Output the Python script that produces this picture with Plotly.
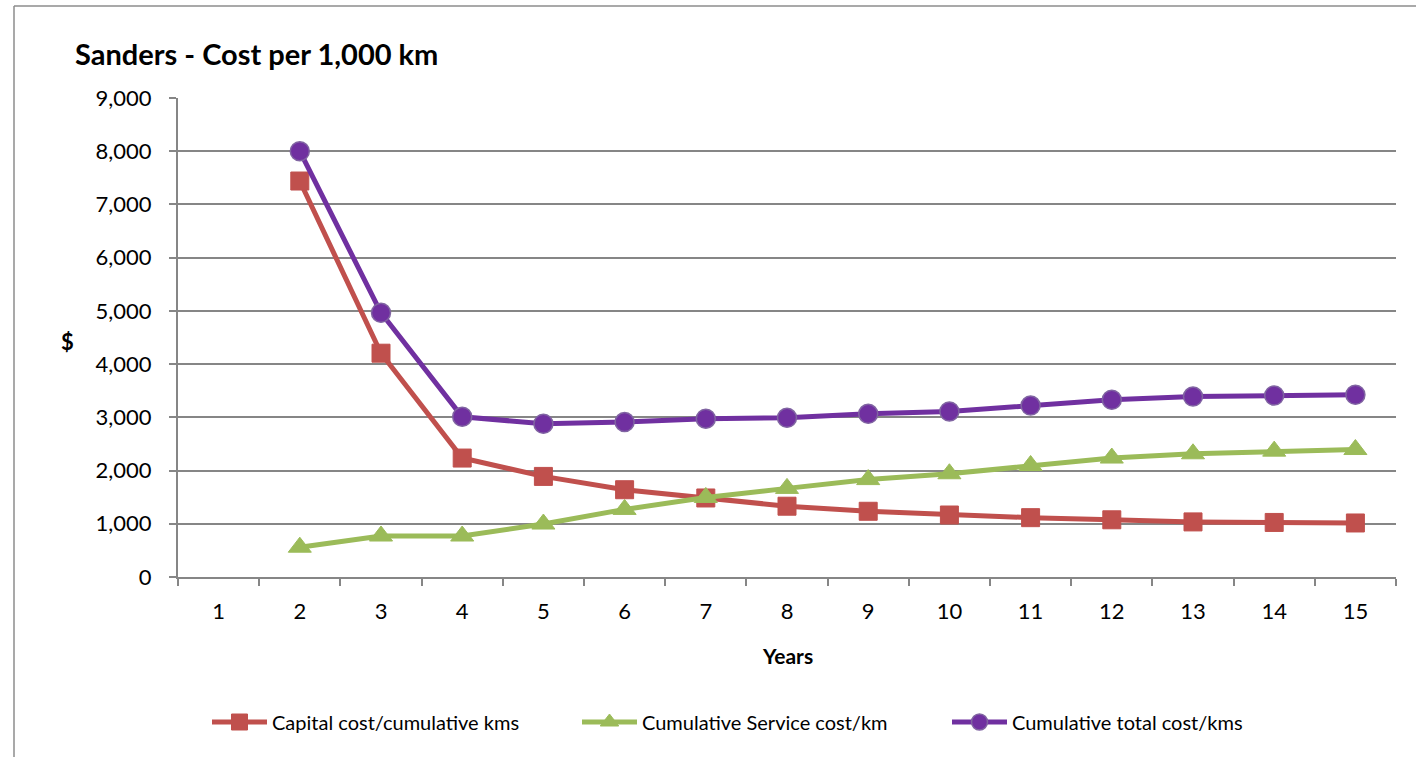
import plotly.graph_objects as go

# Years on the category axis
years = [str(y) for y in range(1, 16)]

# Cost per 1,000 km ($); year 1 has no data
capital_cost = [None, 7440, 4205, 2235, 1890, 1640, 1485, 1330, 1235, 1165, 1115, 1075, 1035, 1025, 1015]
service_cost = [None, 560, 770, 770, 995, 1270, 1495, 1665, 1830, 1940, 2095, 2235, 2315, 2365, 2395]
total_cost = [None, 8000, 4965, 3010, 2880, 2910, 2975, 2990, 3065, 3110, 3220, 3330, 3390, 3410, 3425]

y_ticks = list(range(0, 9001, 1000))
y_tick_labels = [f"{v:,}" for v in y_ticks]

FONT = "Lato"
W, H = 1416, 757
L, R, T, B = 178, 20, 98, 180

fig = go.Figure()

fig.add_trace(go.Scatter(
    x=years, y=capital_cost, name="Capital cost/cumulative kms",
    mode="lines+markers",
    line=dict(color="#C0504D", width=5),
    marker=dict(symbol="square", size=18, color="#C0504D", line=dict(color="#C0504D", width=1)),
))
fig.add_trace(go.Scatter(
    x=years, y=service_cost, name="Cumulative Service cost/km",
    mode="lines+markers",
    line=dict(color="#9BBB59", width=5),
    marker=dict(symbol="triangle-up", size=20, color="#9BBB59", line=dict(color="#9BBB59", width=1)),
))
fig.add_trace(go.Scatter(
    x=years, y=total_cost, name="Cumulative total cost/kms",
    mode="lines+markers",
    line=dict(color="#7030A0", width=5),
    marker=dict(symbol="circle", size=19, color="#7030A0", line=dict(color="#8064A2", width=1.5)),
))

pw = W - L - R
ph = H - T - B

def px_x(x):
    return (x - L) / pw

def px_y(y):
    return (H - B - y) / ph

# Outer chart frame (top and left edges)
fig.add_shape(type="line", xref="paper", yref="paper",
              x0=px_x(14), x1=px_x(1416), y0=px_y(6), y1=px_y(6),
              line=dict(color="#8C8C8C", width=1.5))
fig.add_shape(type="line", xref="paper", yref="paper",
              x0=px_x(14), x1=px_x(14), y0=px_y(6), y1=px_y(757),
              line=dict(color="#8C8C8C", width=1.5))

fig.add_annotation(text="<b>$</b>", xref="paper", yref="paper",
                   x=px_x(67), y=px_y(341), xanchor="center", yanchor="middle",
                   showarrow=False, font=dict(family=FONT, size=22, color="black"))
fig.add_annotation(text="<b>Years</b>", xref="paper", yref="paper",
                   x=px_x(787), y=px_y(655), xanchor="center", yanchor="middle",
                   showarrow=False, font=dict(family=FONT, size=21, color="black"))

fig.update_layout(
    width=W, height=H,
    margin=dict(l=L, r=R, t=T, b=B),
    paper_bgcolor="white", plot_bgcolor="white",
    font=dict(family=FONT, color="black"),
    title=dict(text="<b>Sanders - Cost per 1,000 km</b>", xref="container", yref="container",
               x=75 / W, xanchor="left", y=1 - 55 / H, yanchor="middle",
               font=dict(family=FONT, size=29, color="black")),
    xaxis=dict(type="category", categoryorder="array", categoryarray=years,
               range=[-0.5, 14.5],
               showgrid=False, showline=True, linecolor="#868686", linewidth=2,
               ticks="outside", tickson="boundaries", ticklen=7, tickcolor="#868686", tickwidth=1.5,
               tickfont=dict(family=FONT, size=22), ticklabelstandoff=14),
    yaxis=dict(range=[0, 9000], tickvals=y_ticks, ticktext=y_tick_labels,
               showgrid=True, gridcolor="#868686", gridwidth=1.5,
               showline=True, linecolor="#868686", linewidth=2,
               ticks="outside", ticklen=7, tickcolor="#868686", tickwidth=1.5,
               tickfont=dict(family=FONT, size=22), zeroline=False, ticklabelstandoff=13),
    legend=dict(orientation="h", xref="container", yref="container",
                x=207 / W, xanchor="left", y=1 - 722 / H, yanchor="middle",
                font=dict(family=FONT, size=20), itemwidth=55,
                entrywidth=300, entrywidthmode="pixels",
                tracegroupgap=0),
    showlegend=True,
)

fig.write_html("out.html")
